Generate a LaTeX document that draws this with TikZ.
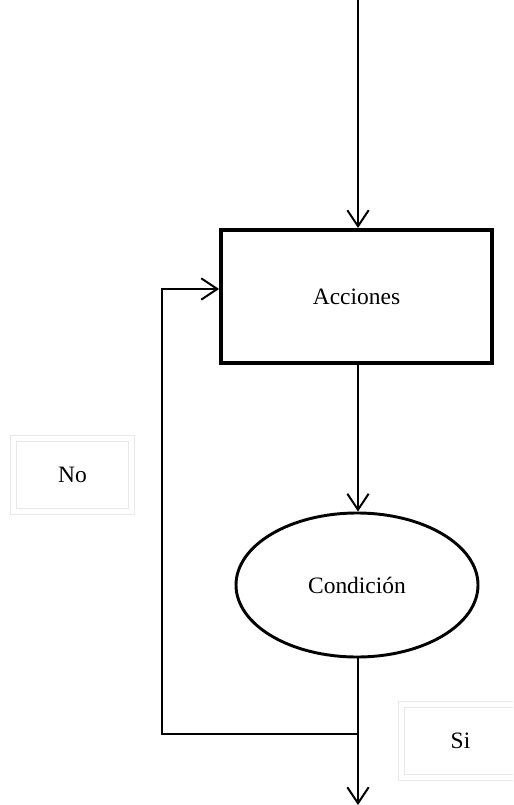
\documentclass[tikz,border=0pt]{standalone}
\usepackage{fontspec}
\setmainfont{Liberation Serif}
\usetikzlibrary{arrows.meta,shapes.geometric}

\tikzset{
  flow/.style={line width=1.5pt, -{Straight Barb[length=12pt,width=16pt,line width=1.5pt]}},
  actionbox/.style={draw, line width=3pt, rectangle, minimum width=203.25pt, minimum height=99.75pt, inner sep=0pt},
  condition/.style={draw, line width=2.2pt, ellipse, minimum width=181.5pt, minimum height=108pt, inner sep=0pt},
  tag/.style={draw=gray!18, line width=0.8pt, double=white, double distance=3.75pt,
              minimum width=88.5pt, minimum height=54.75pt, inner sep=0pt},
  every node/.style={font=\fontsize{17.6}{21}\selectfont}
}

\begin{document}
\begin{tikzpicture}[x=0.75pt, y=-0.75pt]
  \useasboundingbox (0,0) rectangle (513,805);
  \clip (0,0) rectangle (513,805);

  % nodes
  \node[actionbox] (acc) at (356.5,296.5) {Acciones};
  \node[condition] (cond) at (357,585) {Condición};
  \node[tag] (no) at (72.5,475) {No};
  \node[tag] (si) at (460.5,741) {Si};

  % entry, loop exit and merge points
  \coordinate (start) at (358,0);
  \coordinate (exit) at (358,805);
  \coordinate (split) at (358,734);
  \coordinate (corner1) at (162,734);
  \coordinate (corner2) at (162,289);
  \coordinate (entry) at (acc.west |- corner2);

  % connectors
  \draw[flow] (start) -- (start |- acc.north);
  \draw[flow] (acc.south -| start) -- (cond.north -| start);
  \draw[flow] (cond.south -| start) -- (exit);
  \draw[flow] (split) -- (corner1) -- (corner2) -- (entry);
\end{tikzpicture}
\end{document}
